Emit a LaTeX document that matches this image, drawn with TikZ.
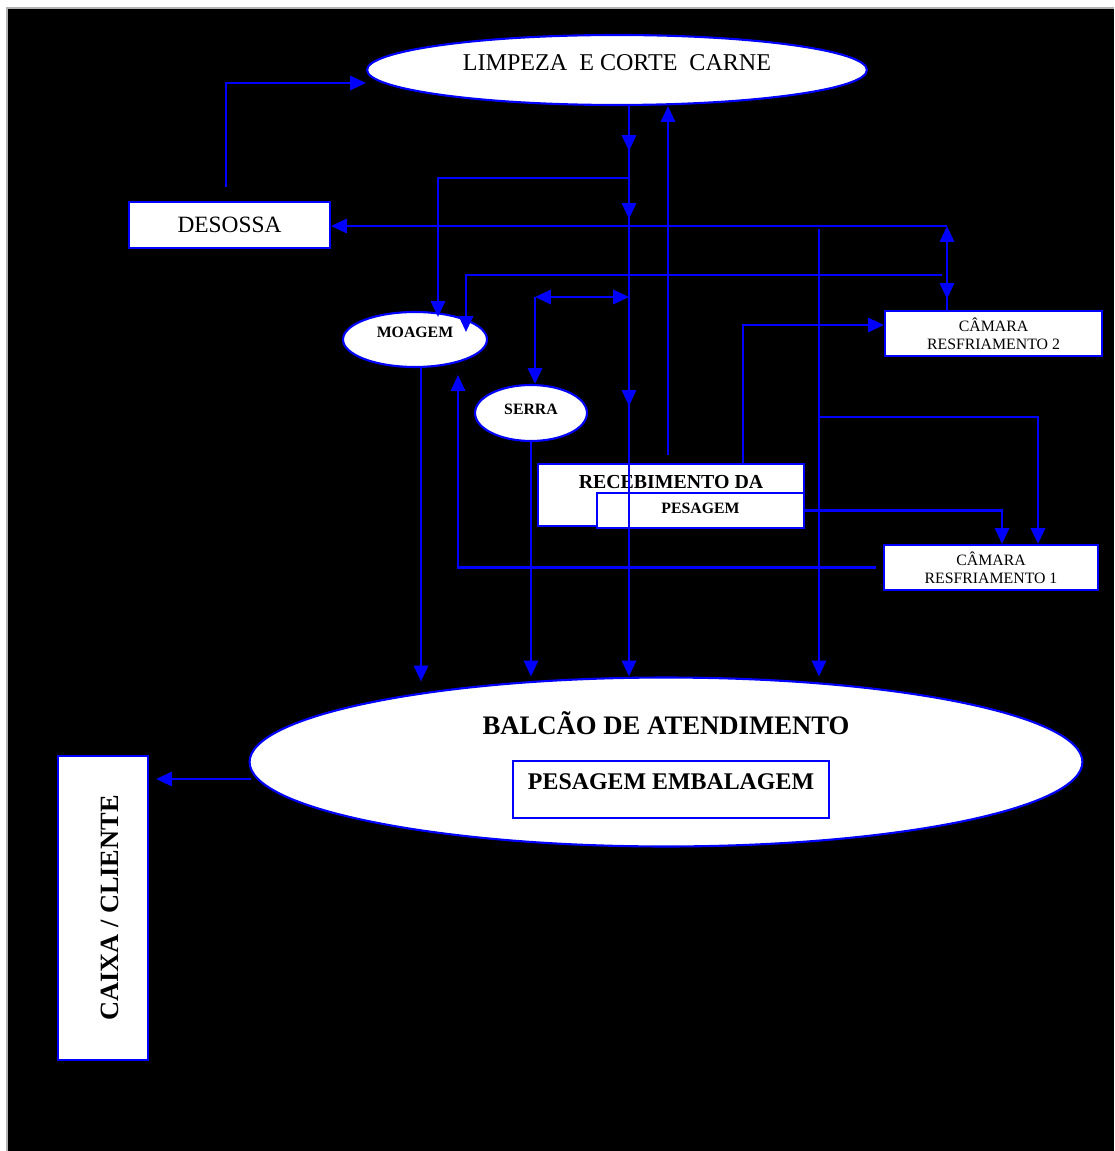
\documentclass[tikz,border=0pt]{standalone}
\usepackage{graphicx}
\usepackage{xcolor}
\usepackage{fontspec}
\setmainfont{Liberation Serif}
\usetikzlibrary{shapes.geometric, arrows.meta, decorations.markings}

\begin{document}
\begin{tikzpicture}[
    x=0.02cm, y=-0.02cm,
    flowtip/.tip={Triangle[length=9pt, width=8pt]},
    proc/.style={rectangle, draw=blue, line width=1.2pt, fill=white, inner sep=0pt, align=center},
    oval/.style={ellipse, draw=blue, line width=1.2pt, fill=white, inner sep=0pt, align=center},
    camara/.style={proc, font=\fontsize{9}{10.2}\selectfont},
    tinybold/.style={font=\bfseries\fontsize{9}{10}\selectfont},
    arrow/.style={-flowtip, blue, line width=1.5pt},
    revarrow/.style={flowtip-, blue, line width=1.5pt},
    twoway/.style={flowtip-flowtip, blue, line width=1.5pt},
    downmark/.style={postaction={decorate}, decoration={markings, mark=at position #1 with {\arrow{flowtip}}}},
    trunk/.style={postaction={decorate}, decoration={markings,
        mark=at position 0.9cm with {\arrow{flowtip}},
        mark=at position 2.26cm with {\arrow{flowtip}},
        mark=at position 6cm with {\arrow{flowtip}}}}
]
    % Background
    \useasboundingbox (0,0) rectangle (1114,1151);
    \fill[white] (0,0) rectangle (1114,1151);
    \fill[black] (7,8) rectangle (1114,1151);
    \draw[gray!60, line width=0.6pt] (7,1151) -- (7,8) -- (1114,8);
    % Processes
    \node[oval, minimum width=10cm, minimum height=1.4cm, text depth=8pt, font=\fontsize{13.7}{16}\selectfont] (limpeza) at (617,70) {LIMPEZA\ \ E CORTE\ \ CARNE};
    \node[proc, minimum width=4.02cm, minimum height=0.92cm, font=\fontsize{13.3}{16}\selectfont] (desossa) at (229.5,225) {DESOSSA};
    \node[oval, minimum width=2.88cm, minimum height=1.1cm, text depth=8pt, tinybold] (moagem) at (415,339.5) {MOAGEM};
    \node[oval, minimum width=2.24cm, minimum height=1.12cm, text depth=4pt, tinybold] (serra) at (531,413) {SERRA};
    % Cold rooms
    \node[camara, minimum width=4.34cm, minimum height=0.9cm] (cam2) at (993.5,333.5) {CÂMARA\\RESFRIAMENTO 2};
    \node[camara, minimum width=4.28cm, minimum height=0.9cm] (cam1) at (991,567.5) {CÂMARA\\RESFRIAMENTO 1};
    % Reception
    \node[proc, minimum width=5.32cm, minimum height=1.24cm, text depth=14.8pt, font=\bfseries\fontsize{11.3}{13}\selectfont] (receb) at (671,495) {RECEBIMENTO DA};
    \node[proc, minimum width=4.14cm, minimum height=0.7cm, text depth=3pt, tinybold] (pesagem) at (700.5,510.5) {PESAGEM};
    % Counter and cashier
    \node[oval, minimum width=16.66cm, minimum height=3.38cm] (balcao) at (666,762) {};
    \node[font=\bfseries\fontsize{15.2}{18}\selectfont] (balcaoTxt) at (666,723) {BALCÃO DE ATENDIMENTO};
    \node[proc, minimum width=6.32cm, minimum height=1.14cm, text depth=8.5pt, font=\bfseries\fontsize{13.6}{16}\selectfont] (embal) at (671,789.5) {PESAGEM EMBALAGEM};
    \node[proc, minimum width=1.8cm, minimum height=6.08cm, font=\bfseries\fontsize{15}{18}\selectfont] (caixa) at (103,908) {\hspace*{8pt}\rotatebox{90}{CAIXA / CLIENTE}};
    % Junctions
    \coordinate (d1) at (226,187);
    \coordinate (j1) at (629,178);
    \coordinate (j2) at (629,297);
    \coordinate (j3) at (947,226);
    \coordinate (j4) at (942,275);
    \coordinate (j5) at (535,297);
    \coordinate (j6) at (819,229);
    \coordinate (j7) at (819,417);
    \coordinate (r1) at (668,455);
    \coordinate (m1) at ([xshift=0.12cm]moagem.south);
    \coordinate (b1) at ([xshift=0.05cm, yshift=-0.34cm]balcao.west);
    % Arrows
    \draw[arrow] (d1) |- ([yshift=-0.26cm]limpeza.west);
    \draw[arrow, trunk] (limpeza.south -| j1) -- (balcao.north -| j1);
    \draw[arrow] (r1) -- (r1 |- limpeza.south);
    \draw[arrow] (j1) -| ([xshift=0.46cm, yshift=-0.12cm]moagem.north);
    \draw[arrow] (j3) -- (j3 -| desossa.east);
    \draw[revarrow, downmark=1.46cm] (j3) -- (cam2.north -| j3);
    \draw[arrow] (j4) -| ([shift={(1.02cm,0.15cm)}]moagem.center);
    \draw[arrow] ([xshift=-0.14cm]cam1.west) -| ([shift={(0.86cm,-0.71cm)}]moagem.center);
    \draw[arrow, shorten >=-0.1cm] (m1) -- (m1 |- balcao.north);
    \draw[twoway] (j5) -- (j2);
    \draw[arrow] (j5) -- (j5 |- serra.north);
    \draw[arrow] (serra.south) -- (serra.south |- balcao.north);
    \draw[arrow] ([xshift=1.44cm]receb.north) |- ([yshift=0.17cm]cam2.west);
    \draw[arrow] (j6) -- (j6 |- balcao.north);
    \draw[arrow] (j7) -| ([xshift=0.94cm]cam1.north);
    \draw[arrow] (pesagem.east) -| ([xshift=0.22cm]cam1.north);
    \draw[arrow, shorten >=0.14cm] (b1) -- (b1 -| caixa.east);
\end{tikzpicture}
\end{document}
